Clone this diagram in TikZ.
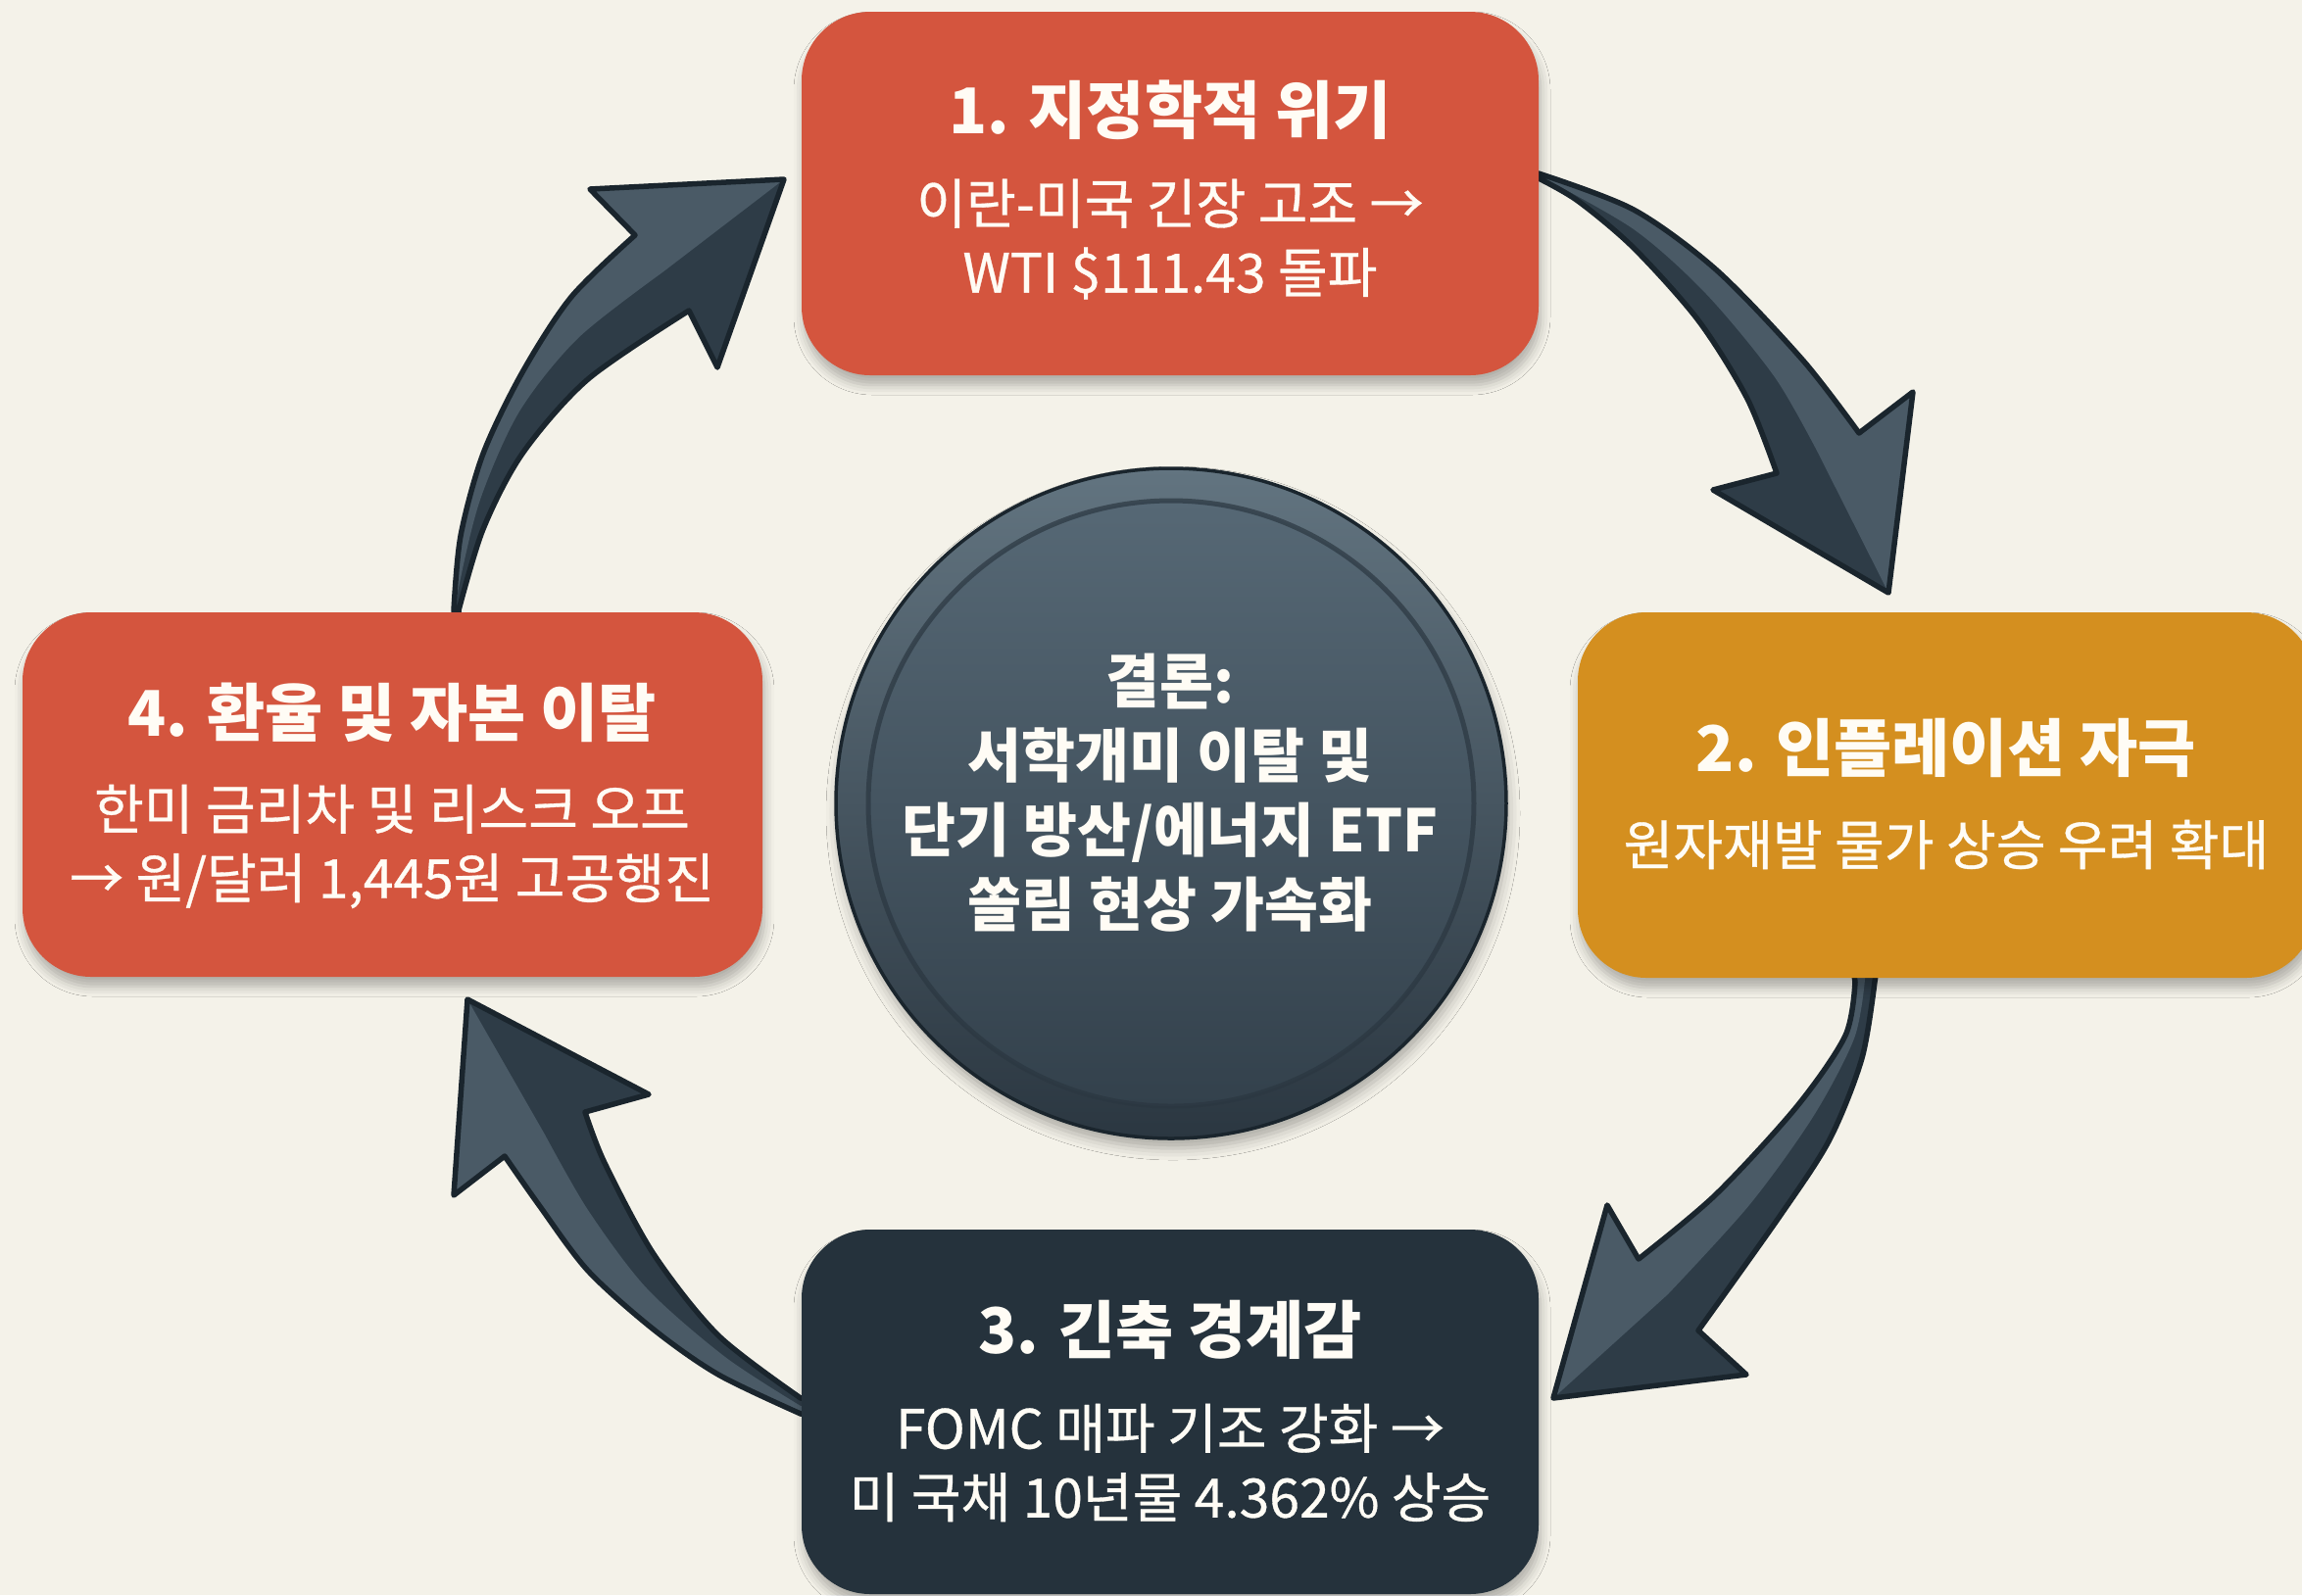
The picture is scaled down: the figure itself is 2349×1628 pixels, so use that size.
\documentclass[tikz,border=0pt]{standalone}
\usepackage{fontspec}
\setmainfont{Noto Sans CJK KR}
\newfontfamily\subfont{Noto Sans CJK KR}[FakeBold=0.6]
\usetikzlibrary{shadows.blur}
\definecolor{bg}{HTML}{F4F2E9}
\definecolor{redbox}{HTML}{D4553E}
\definecolor{orangebox}{HTML}{D48F1F}
\definecolor{darkbox}{HTML}{25323C}
\definecolor{arrowdark}{HTML}{2E3C47}
\definecolor{arrowlight}{HTML}{4A5A66}
\definecolor{arrowline}{HTML}{1A252D}
\definecolor{txt}{HTML}{FFFCF5}
\definecolor{ringtop}{HTML}{627480}
\definecolor{ringbot}{HTML}{2B3741}
\definecolor{disctop}{HTML}{566875}
\definecolor{discbot}{HTML}{33414C}
\begin{document}
\begin{tikzpicture}[x=0.1mm,y=-0.1mm,
  box/.style={rounded corners=7mm, inner sep=0pt,
    blur shadow={shadow xshift=0.2mm, shadow yshift=-1.0mm, shadow blur radius=1.0mm, shadow opacity=28}},
  ttl/.style={text=txt, font=\fontsize{18.3}{22}\selectfont\bfseries, inner sep=0pt},
  sub/.style={text=txt, font=\subfont\fontsize{15.7}{20}\selectfont, align=center, inner sep=0pt},
  ctext/.style={text=txt, font=\fontsize{17}{21.6}\selectfont\bfseries, align=center, inner sep=0pt},
  arrfill/.style={fill=arrowdark},
  arrhalf/.style={fill=arrowlight},
  arredge/.style={draw=arrowline, line width=0.55mm, line join=round}
]
\useasboundingbox (0,0) rectangle (2349,1628);
\fill[bg] (0,0) rectangle (2349,1628);

% ---------- arrow 1 : box 1 -> box 2
\path[save path=\pAone] (1560,176) -- plot[smooth,tension=0.5] coordinates {(1570,177) (1667,214) (1752,276) (1840,368) (1897,442)} -- (1952,400) -- (1927,605) -- (1748,500) -- plot[smooth,tension=0.5] coordinates {(1813,483) (1783,407) (1733,327) (1667,253) (1610,205) (1570,182)} -- (1560,182) -- cycle;
\fill[arrfill, use path=\pAone];
\fill[arrhalf] (1560,176) -- plot[smooth,tension=0.5] coordinates {(1570,177) (1667,214) (1752,276) (1840,368) (1897,442)} -- (1952,400) -- (1927,605) -- plot[smooth,tension=0.5] coordinates {(1855,462) (1811,385) (1741,300) (1667,234) (1570,179)} -- cycle;
\draw[arredge, use path=\pAone];

% ---------- arrow 2 : box 2 -> box 3
\path[save path=\pAtwo] (1891,990) -- plot[smooth,tension=0.5] coordinates {(1893,1002) (1883,1057) (1833,1130) (1750,1220) (1672,1285)} -- (1640,1230) -- (1585,1427) -- (1782,1403) -- plot[smooth,tension=0.5] coordinates {(1733,1358) (1817,1240) (1867,1163) (1900,1080) (1913,1002)} -- (1915,990) -- cycle;
\fill[arrfill, use path=\pAtwo];
\fill[arrhalf] (1891,990) -- plot[smooth,tension=0.5] coordinates {(1893,1002) (1883,1057) (1833,1130) (1750,1220) (1672,1285)} -- (1640,1230) -- (1585,1427) -- plot[smooth,tension=0.5] coordinates {(1702,1321) (1785,1230) (1850,1140) (1892,1060) (1903,1000)} -- (1903,990) -- cycle;
\draw[arredge, use path=\pAtwo];

% ---------- arrow 3 : box 3 -> box 4
\path[save path=\pAthree] (830,1427) -- plot[smooth,tension=0.5] coordinates {(817,1427) (733,1363) (667,1280) (617,1187) (597,1135)} -- (662,1117) -- (477,1020) -- (463,1220) -- plot[smooth,tension=0.5] coordinates {(515,1180) (550,1230) (600,1297) (667,1357) (733,1403) (817,1443)} -- (830,1445) -- cycle;
\fill[arrfill, use path=\pAthree];
\fill[arrhalf] (830,1445) -- plot[smooth,tension=0.5] coordinates {(817,1443) (733,1403) (667,1357) (600,1297) (550,1230) (515,1180)} -- (463,1220) -- (477,1020) -- plot[smooth,tension=0.5] coordinates {(556,1158) (600,1235) (660,1315) (740,1385) (817,1435)} -- (830,1436) -- cycle;
\draw[arredge, use path=\pAthree];

% ---------- arrow 4 : box 4 -> box 1
\path[save path=\pAfour] (465,635) -- plot[smooth,tension=0.5] coordinates {(463,623) (470,547) (493,463) (533,380) (583,303) (648,240)} -- (602,193) -- (800,183) -- (732,375) -- plot[smooth,tension=0.5] coordinates {(703,317) (600,387) (533,463) (493,540) (468,623)} -- (468,635) -- cycle;
\fill[arrfill, use path=\pAfour];
\fill[arrhalf] (465,635) -- plot[smooth,tension=0.5] coordinates {(463,623) (470,547) (493,463) (533,380) (583,303) (648,240)} -- (602,193) -- (800,183) -- plot[smooth,tension=0.5] coordinates {(676,278) (590,345) (530,420) (490,510) (468,600) (466,630)} -- cycle;
\draw[arredge, use path=\pAfour];

% ---------- boxes
\node[box, fill=redbox, minimum width=75.2mm, minimum height=37.1mm] (b1) at (1194,197.5) {};
\node[box, fill=orangebox, minimum width=75.2mm, minimum height=37.3mm] (b2) at (1986,811.5) {};
\node[box, fill=darkbox, minimum width=75.2mm, minimum height=37.2mm] (b3) at (1194,1441) {};
\node[box, fill=redbox, minimum width=75.5mm, minimum height=37.2mm] (b4) at (400.5,811) {};

\node[ttl] (b1t) at (1194,112) {1. 지정학적 위기};
\node[sub] (b1s) at (1194,244) {이란-미국 긴장 고조 →\\WTI \$111.43 돌파};
\node[ttl] (b2t) at (1986,763) {2. 인플레이션 자극};
\node[sub] (b2s) at (1986,862) {원자재발 물가 상승 우려 확대};
\node[ttl] (b3t) at (1194,1357) {3. 긴축 경계감};
\node[sub] (b3s) at (1194,1493) {FOMC 매파 기조 강화 →\\미 국채 10년물 4.362\% 상승};
\node[ttl] (b4t) at (400,727) {4. 환율 및 자본 이탈};
\node[sub] (b4s) at (400,864) {한미 금리차 및 리스크 오프\\→ 원/달러 1,445원 고공행진};

% ---------- centre disc
\node[circle, minimum size=68.4mm, inner sep=0pt, top color=ringtop, bottom color=ringbot,
  draw=arrowline, line width=0.35mm,
  blur shadow={shadow xshift=0.2mm, shadow yshift=-1.0mm, shadow blur radius=1.2mm, shadow opacity=30}] (c) at (1195,820) {};
\shade[top color=disctop, bottom color=discbot] (c.center) circle[radius=30.9mm];
\draw[draw=ringbot, line width=0.5mm, opacity=0.7] (c.center) circle[radius=30.9mm];
\node[ctext] (ct) at (1194,809) {결론:\\서학개미 이탈 및\\단기 방산/에너지 ETF\\쏠림 현상 가속화};
\end{tikzpicture}
\end{document}
